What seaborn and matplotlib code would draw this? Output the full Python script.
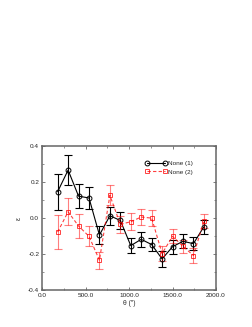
import matplotlib
matplotlib.use("Agg")
import matplotlib.pyplot as plt
import seaborn as sns
import numpy as np
import pandas as pd
from matplotlib.ticker import MultipleLocator

theta = [180, 300, 420, 540, 660, 780, 900, 1020, 1140, 1260, 1380, 1500, 1620, 1740, 1860]
eps1 = [0.147, 0.267, 0.122, 0.112, -0.094, 0.013, -0.013, -0.153, -0.118, -0.147, -0.227, -0.159, -0.129, -0.142, -0.048]
err1 = [0.100, 0.082, 0.068, 0.060, 0.050, 0.050, 0.045, 0.041, 0.041, 0.038, 0.043, 0.038, 0.039, 0.037, 0.040]
eps2 = [-0.077, 0.035, -0.044, -0.101, -0.234, 0.127, -0.035, -0.020, 0.006, 0.000, -0.197, -0.101, -0.157, -0.208, -0.017]
err2 = [0.092, 0.076, 0.065, 0.056, 0.047, 0.055, 0.048, 0.047, 0.045, 0.045, 0.040, 0.040, 0.036, 0.040, 0.040]
labels = ["None (1)", "None (2)"]

sns.set_theme(style="ticks")
plt.rcParams['font.family'] = ['Liberation Sans', 'DejaVu Sans']

fig = plt.figure(figsize=(2.53, 3.27), dpi=100)
ax = fig.add_axes([0.166, 0.113, 0.688, 0.44])

df1 = pd.DataFrame({"theta": theta, "eps": eps1})
df2 = pd.DataFrame({"theta": theta, "eps": eps2})

ax.errorbar(theta, eps1, yerr=err1, fmt="none", ecolor="black", elinewidth=0.8, capsize=3, capthick=0.8, zorder=2)
ax.errorbar(theta, eps2, yerr=err2, fmt="none", ecolor=(1, 0, 0, 0.5), elinewidth=0.8, capsize=3, capthick=0.8, zorder=2)

sns.lineplot(data=df1, x="theta", y="eps", ax=ax, color="black", linewidth=0.8,
             marker="o", markersize=3.5, markerfacecolor="none", markeredgecolor="black",
             markeredgewidth=0.7, label=labels[0], zorder=3)
sns.lineplot(data=df2, x="theta", y="eps", ax=ax, color=(1, 0, 0, 0.75), linewidth=0.8,
             marker="s", markersize=3.2, markerfacecolor="none", markeredgecolor=(1, 0, 0, 0.75),
             markeredgewidth=0.7, label=labels[1], zorder=3)
ax.lines[-1].set_dashes([3, 2])

ax.set_xlim(0, 2000)
ax.set_ylim(-0.4, 0.4)
ax.xaxis.set_minor_locator(MultipleLocator(250))
ax.yaxis.set_minor_locator(MultipleLocator(0.1))
ax.set_xticks([0, 500, 1000, 1500, 2000])
ax.set_xticklabels(["0.0", "500.0", "1000.0", "1500.0", "2000.0"])
ax.set_yticks([-0.4, -0.2, 0.0, 0.2, 0.4])
ax.set_yticklabels(["-0.4", "-0.2", "0.0", "0.2", "0.4"])
ax.tick_params(which="both", direction="in", top=True, right=True, labelsize=4.6,
               color="#666666", pad=2)
ax.tick_params(which="major", length=2.5, width=0.6)
ax.tick_params(which="minor", length=1.5, width=0.5)
for s in ax.spines.values():
    s.set_color("#666666")
    s.set_linewidth(1.1)

ax.set_xlabel("θ (″)", fontsize=4.8, labelpad=1.5)
ax.set_ylabel("ε", fontsize=4.8, labelpad=4)

leg = ax.legend(loc="upper right", bbox_to_anchor=(0.89, 0.93), frameon=False, fontsize=4.6,
                handlelength=3.4, handletextpad=0.1, borderpad=0.2, labelspacing=0.45, numpoints=2)

fig.savefig("out.png", dpi=100)
